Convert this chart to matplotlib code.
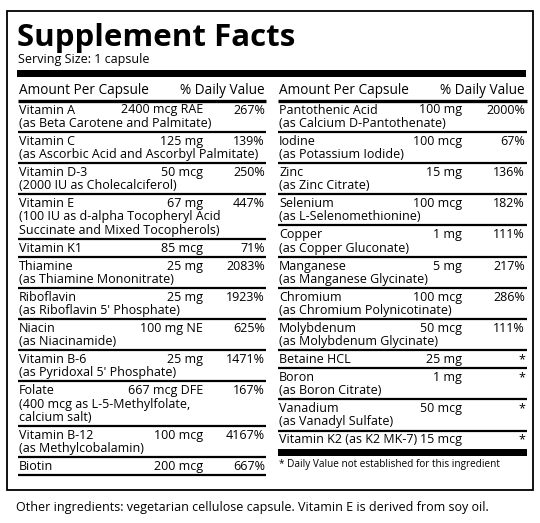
import matplotlib
matplotlib.use("Agg")
import matplotlib.pyplot as plt

FONT = ["Open Sans", "DejaVu Sans"]

left_names = ["Vitamin A", "Vitamin C", "Vitamin D-3", "Vitamin E", "Vitamin K1", "Thiamine",
              "Riboflavin", "Niacin", "Vitamin B-6", "Folate", "Vitamin B-12", "Biotin"]
left_amounts = ["2400 mcg RAE", "125 mg", "50 mcg", "67 mg", "85 mcg", "25 mg",
                "25 mg", "100 mg NE", "25 mg", "667 mcg DFE", "100 mcg", "200 mcg"]
left_dv = ["267%", "139%", "250%", "447%", "71%", "2083%", "1923%", "625%", "1471%", "167%", "4167%", "667%"]
left_src = [["(as Beta Carotene and Palmitate)"], ["(as Ascorbic Acid and Ascorbyl Palmitate)"],
            ["(2000 IU as Cholecalciferol)"],
            ["(100 IU as d-alpha Tocopheryl Acid", "Succinate and Mixed Tocopherols)"], [],
            ["(as Thiamine Mononitrate)"], ["(as Riboflavin 5' Phosphate)"], ["(as Niacinamide)"],
            ["(as Pyridoxal 5' Phosphate)"], ["(400 mcg as L-5-Methylfolate,", "calcium salt)"],
            ["(as Methylcobalamin)"], []]

right_names = ["Pantothenic Acid", "Iodine", "Zinc", "Selenium", "Copper", "Manganese", "Chromium",
               "Molybdenum", "Betaine HCL", "Boron", "Vanadium", "Vitamin K2 (as K2 MK-7)"]
right_amounts = ["100 mg", "100 mcg", "15 mg", "100 mcg", "1 mg", "5 mg", "100 mcg", "50 mcg",
                 "25 mg", "1 mg", "50 mcg", "15 mcg"]
right_dv = ["2000%", "67%", "136%", "182%", "111%", "217%", "286%", "111%", "*", "*", "*", "*"]
right_src = [["(as Calcium D-Pantothenate)"], ["(as Potassium Iodide)"], ["(as Zinc Citrate)"],
             ["(as L-Selenomethionine)"], ["(as Copper Gluconate)"], ["(as Manganese Glycinate)"],
             ["(as Chromium Polynicotinate)"], ["(as Molybdenum Glycinate)"], [],
             ["(as Boron Citrate)"], ["(as Vanadyl Sulfate)"], []]

fig = plt.figure(figsize=(5.4, 5.23), dpi=100)
ax = fig.add_axes([0, 0, 1, 1])
ax.set_xlim(0, 540)
ax.set_ylim(523, 0)
ax.axis("off")

FS = 9.0
ax.add_patch(plt.Rectangle((7, 11), 526, 479, fill=False, lw=1.3, ec="black"))
ax.text(17, 38, "Supplement Facts", fontsize=22.5, fontweight="bold", family=FONT, va="center")
ax.text(18, 60, "Serving Size: 1 capsule", fontsize=FS, family=FONT, va="center")
ax.add_patch(plt.Rectangle((17, 70), 509, 7, color="black", lw=0))

L, SEP, G = 13.3, 7, 10.9


def column(x0, x1, xa, xd, names, amounts, dvs, srcs, shorten=None):
    ax.text(x0 + 1, 91, "Amount Per Capsule", fontsize=FS + 0.8, family=FONT, va="center")
    ax.text(xd, 91, "% Daily Value", fontsize=FS + 0.8, family=FONT, va="center", ha="right")
    ax.plot([x0, x1], [100.5, 100.5], color="black", lw=2.4, solid_capstyle="butt")
    y = 110
    last = y
    for i, (n, a, d, s) in enumerate(zip(names, amounts, dvs, srcs)):
        ax.text(x0 + 1, y, n, fontsize=FS, family=FONT, va="center")
        ax.text(xa, y, a, fontsize=FS, family=FONT, va="center", ha="right")
        ax.text(xd, y, d, fontsize=FS, family=FONT, va="center", ha="right")
        yy = y
        for line in s:
            yy += L
            ax.text(x0 + 1, yy, line, fontsize=FS, family=FONT, va="center")
        last = yy
        if i < len(names) - 1 or shorten is None:
            ax.plot([x0, x1], [yy + SEP + 1.5, yy + SEP + 1.5], color="black", lw=1.6, solid_capstyle="butt")
        y = yy + SEP + G
    return last


column(18, 266, 203, 265, left_names, left_amounts, left_dv, left_src)
last = column(278, 527, 462, 525, right_names, right_amounts, right_dv, right_src, shorten=True)
ax.add_patch(plt.Rectangle((278, last + 9), 249, 7, color="black", lw=0))
ax.text(279, last + 25, "* Daily Value not established for this ingredient", fontsize=7.2,
        family=FONT, va="center")
ax.text(16, 508, "Other ingredients: vegetarian cellulose capsule. Vitamin E is derived from soy oil.",
        fontsize=FS, family=FONT, va="center")

fig.savefig("out.png", dpi=100, facecolor="white")
